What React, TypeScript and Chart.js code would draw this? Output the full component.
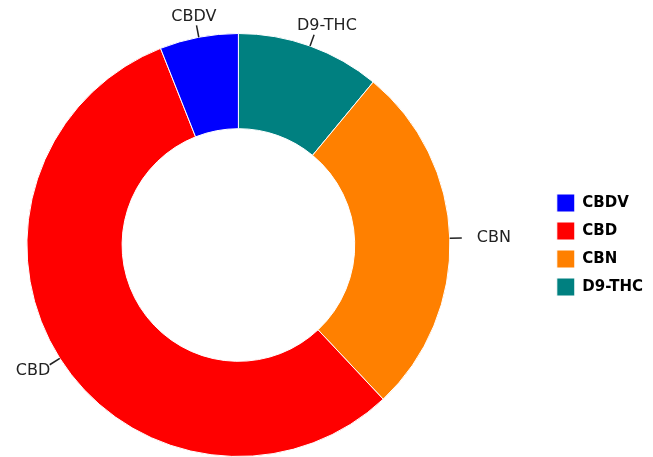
import React, { useEffect, useRef } from "react";
import { Chart, registerables } from "chart.js";

Chart.register(...registerables);

// clockwise from the top
const categories = ["D9-THC", "CBN", "CBD", "CBDV"];
const values = [11, 27, 56, 6];
const colors = ["#008080", "#FF8000", "#FF0000", "#0000FF"];

const FONT = "'DejaVu Sans', sans-serif";
const SHIFT = 70;

const outsideLabels = {
  id: "outsideLabels",
  afterDatasetsDraw(chart: any) {
    const ctx = chart.ctx;
    const meta = chart.getDatasetMeta(0);
    ctx.save();
    ctx.font = `16px ${FONT}`;
    ctx.textAlign = "center";
    ctx.textBaseline = "middle";
    meta.data.forEach((arc: any, i: number) => {
      const p = arc.getProps(["startAngle", "endAngle", "outerRadius", "x", "y"], true);
      const m = (p.startAngle + p.endAngle) / 2;
      const ux = Math.cos(m);
      const uy = Math.sin(m);
      const x0 = p.x + ux * p.outerRadius;
      const y0 = p.y + uy * p.outerRadius;
      const x1 = p.x + ux * (p.outerRadius + 12);
      const y1 = p.y + uy * (p.outerRadius + 12);
      ctx.strokeStyle = "#222";
      ctx.lineWidth = 1.5;
      ctx.beginPath();
      ctx.moveTo(x0, y0);
      ctx.lineTo(x1, y1);
      ctx.stroke();
      const label = chart.data.labels[i];
      const w = ctx.measureText(label).width;
      const hw = w / 2;
      const hh = 7;
      const gap = 2 + 11 * Math.pow(Math.abs(ux), 8);
      const tx = x1 + ux * gap + hw * ux + 2;
      const ty = y1 + uy * gap + hh * uy;
      ctx.fillStyle = "#222";
      ctx.fillText(label, tx, ty);
    });
    ctx.restore();
  },
};

export default function App() {
  const ref = useRef<HTMLCanvasElement | null>(null);
  useEffect(() => {
    if (!ref.current) return;
    const chart = new Chart(ref.current, {
      type: "doughnut",
      data: {
        labels: categories,
        datasets: [
          {
            data: values,
            backgroundColor: colors,
            borderColor: "#ffffff",
            borderWidth: 1,
          },
        ],
      },
      options: {
        responsive: false,
        animation: false,
        cutout: "55%",
        layout: { padding: { left: 0, top: 33, right: 0, bottom: 0 } },
        plugins: {
          tooltip: { enabled: false },
          legend: {
            position: "right",
            align: "center",
            reverse: true,
            labels: {
              boxWidth: 18,
              boxHeight: 18,
              padding: 10,
              color: "#000",
              font: { family: FONT, size: 15, weight: "bold" },
            },
          },
        },
      },
      plugins: [outsideLabels],
    });
    return () => chart.destroy();
  }, []);
  return (
    <div style={{ position: "fixed", left: -SHIFT, top: 0, width: 653 + SHIFT, height: 457, background: "#fff" }}>
      <canvas ref={ref} width={653 + SHIFT} height={457} style={{ display: "block" }} />
    </div>
  );
}
